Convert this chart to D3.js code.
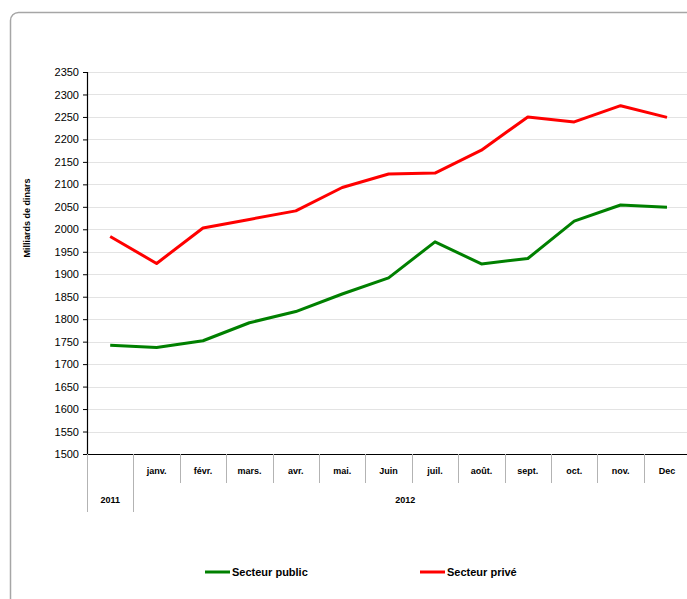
<!DOCTYPE html>
<html>
<head>
<meta charset="utf-8">
<script src="https://cdn.jsdelivr.net/npm/d3@7"></script>
<style>
  body { margin: 0; background: #fff; }
  svg { display: block; font-family: "Liberation Sans", Arial, sans-serif; }
</style>
</head>
<body>
<svg id="chart" width="687" height="599"></svg>
<script>
// data
const months = ['', 'janv.', 'févr.', 'mars.', 'avr.', 'mai.', 'Juin', 'juil.', 'août.', 'sept.', 'oct.', 'nov.', 'Dec'];
const years = ['2011', '2012'];
const public_values = [1742, 1737, 1752, 1792, 1817, 1856, 1892, 1972, 1923, 1935, 2018, 2054, 2049];
const prive_values = [1984, 1924, 2003, 2022, 2041, 2093, 2123, 2125, 2176, 2250, 2239, 2275, 2249];
const y_ticks = d3.range(1500, 2351, 50);

const margin = {top: 72, left: 87};
const band = 46.4;
const width = band * months.length,
  height = 382;

const svg = d3.select('#chart');

// outer frame
svg.append('rect')
  .attr('x', 10.5).attr('y', 12.5)
  .attr('width', 690).attr('height', 600)
  .attr('rx', 8)
  .attr('fill', 'none')
  .attr('stroke', '#a6a6a6')
  .attr('stroke-width', 1.5);

const plot = svg.append('g')
  .attr('transform', `translate(${margin.left},${margin.top})`);

const xScale = d3.scaleBand().domain(d3.range(months.length)).range([0, width]);
const yScale = d3.scaleLinear().domain([1500, 2350]).range([height, 0]);

// grid
plot.append('g')
  .selectAll('line')
  .data(y_ticks.slice(1))
  .enter()
  .append('line')
  .attr('x1', 0).attr('x2', width)
  .attr('y1', d => Math.round(yScale(d)) + 0.5)
  .attr('y2', d => Math.round(yScale(d)) + 0.5)
  .attr('stroke', '#e3e3e3')
  .attr('stroke-width', 1);

// y axis
const yAxis = d3.axisLeft(yScale).tickValues(y_ticks).tickSize(4).tickPadding(4).tickFormat(d3.format('d'));
const ya = plot.append('g').attr('class', 'y axis').call(yAxis);
ya.select('.domain').attr('stroke', '#000').attr('stroke-width', 1.2);
ya.selectAll('.tick line').attr('stroke', '#000');
ya.selectAll('.tick text').attr('font-size', 11).attr('fill', '#000')
  .attr('font-family', '"Liberation Sans", Arial, sans-serif');

// x axis baseline
plot.append('line')
  .attr('x1', 0).attr('x2', width)
  .attr('y1', height + 0.5).attr('y2', height + 0.5)
  .attr('stroke', '#000').attr('stroke-width', 1.2);

// category separators
const xa = plot.append('g').attr('class', 'x axis');
for (let i = 0; i <= months.length; i++) {
  const x = i === months.length ? width : xScale(i);
  const long = (i === 0 || i === 1);
  xa.append('line')
    .attr('x1', Math.round(x) + 0.5).attr('x2', Math.round(x) + 0.5)
    .attr('y1', height).attr('y2', height + (long ? 58 : 29))
    .attr('stroke', '#b3b3b3').attr('stroke-width', 1);
}
xa.selectAll('text.month')
  .data(months)
  .enter()
  .append('text')
  .attr('class', 'month')
  .attr('x', (d, i) => xScale(i) + xScale.bandwidth() / 2)
  .attr('y', height + 20)
  .attr('text-anchor', 'middle')
  .attr('font-size', 9)
  .attr('font-weight', 'bold')
  .text(d => d);

xa.append('text')
  .attr('x', xScale(0) + xScale.bandwidth() / 2)
  .attr('y', height + 49)
  .attr('text-anchor', 'middle')
  .attr('font-size', 9).attr('font-weight', 'bold')
  .text(years[0]);
xa.append('text')
  .attr('x', (xScale(1) + 590) / 2)
  .attr('y', height + 49)
  .attr('text-anchor', 'middle')
  .attr('font-size', 9).attr('font-weight', 'bold')
  .text(years[1]);

// lines
const line = d3.line()
  .x((d, i) => xScale(i) + xScale.bandwidth() / 2)
  .y(d => yScale(d));

plot.append('path')
  .datum(public_values)
  .attr('fill', 'none')
  .attr('stroke', '#008000')
  .attr('stroke-width', 3)
  .attr('stroke-linejoin', 'round')
  .attr('d', line);

plot.append('path')
  .datum(prive_values)
  .attr('fill', 'none')
  .attr('stroke', '#ff0000')
  .attr('stroke-width', 3)
  .attr('stroke-linejoin', 'round')
  .attr('d', line);

// y axis title
svg.append('text')
  .attr('transform', 'translate(30,218) rotate(-90)')
  .attr('text-anchor', 'middle')
  .attr('font-size', 9)
  .attr('font-weight', 'bold')
  .text('Milliards de dinars');

// legend
const legend = [
  {name: 'Secteur public', color: '#008000', x: 205},
  {name: 'Secteur privé', color: '#ff0000', x: 420}
];
legend.forEach(l => {
  svg.append('line')
    .attr('x1', l.x).attr('x2', l.x + 25)
    .attr('y1', 572).attr('y2', 572)
    .attr('stroke', l.color).attr('stroke-width', 3);
  svg.append('text')
    .attr('x', l.x + 27)
    .attr('y', 576)
    .attr('font-size', 11)
    .attr('font-weight', 'bold')
    .text(l.name);
});
</script>
</body>
</html>
